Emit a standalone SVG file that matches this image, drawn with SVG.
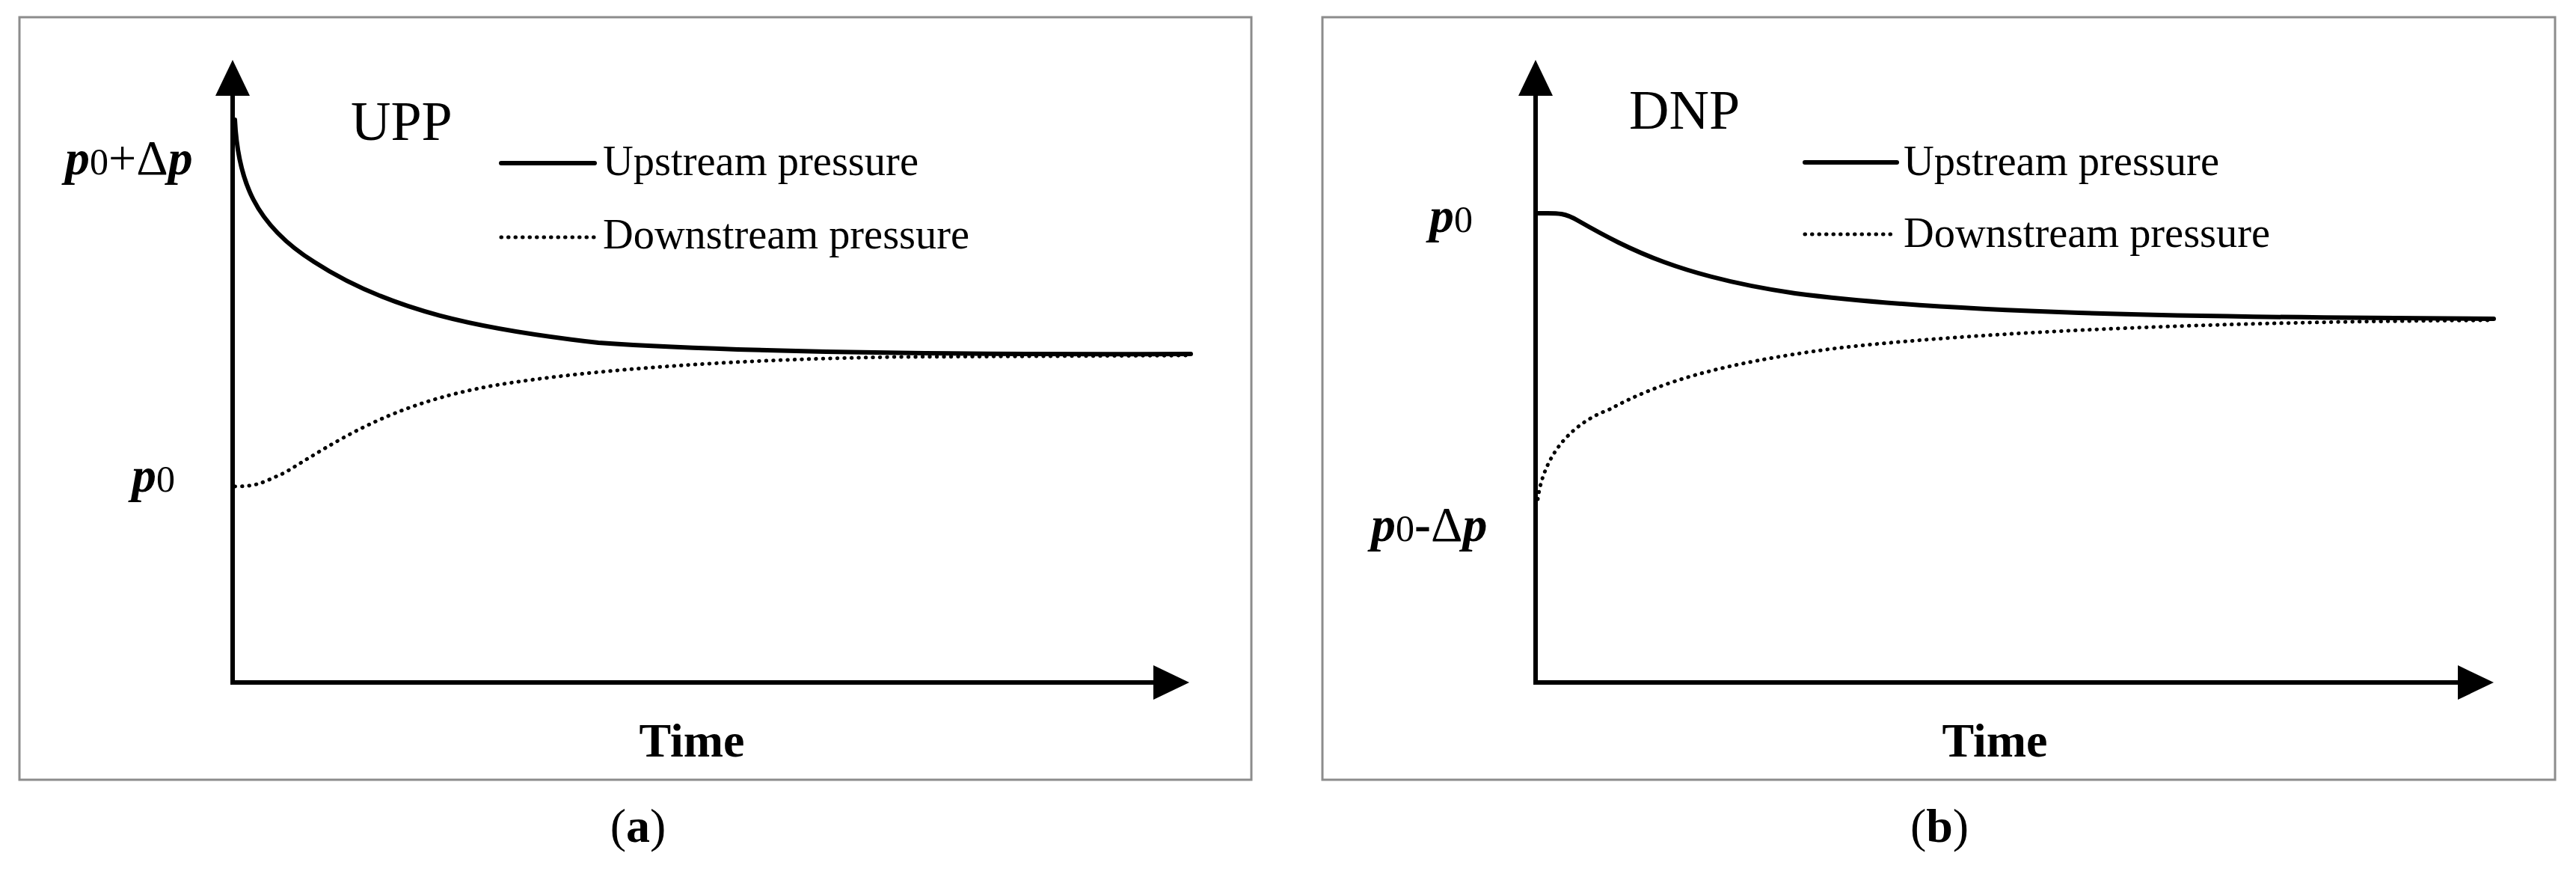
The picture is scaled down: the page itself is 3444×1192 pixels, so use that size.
<svg xmlns="http://www.w3.org/2000/svg" width="3444" height="1192" viewBox="0 0 3444 1192">
<style>
.box{fill:#fff;stroke:#8c8c8c;stroke-width:3}
.axis{stroke:#000;stroke-width:6;fill:none}
.up{stroke:#000;stroke-width:6;fill:none;stroke-linecap:round}
.dn{stroke:#000;stroke-width:5;fill:none;stroke-dasharray:0.5 9;stroke-linecap:round}
.t{font-family:"Liberation Serif",serif;fill:#000}
.lbl{font-family:"Liberation Serif",serif;font-size:66px;fill:#000}
.bi{font-weight:bold;font-style:italic}
.cap{font-family:"Liberation Serif",serif;font-size:64px;fill:#000;text-anchor:middle}
</style>
<defs>
<marker id="ah" markerWidth="10" markerHeight="10" refX="0" refY="5" orient="auto" markerUnits="userSpaceOnUse" viewBox="0 0 10 10" overflow="visible">
<path d="M-4,-18 L44,5 L-4,28 Z" fill="#000"/>
</marker>
</defs>
<rect class="box" x="26" y="23" width="1647" height="1019"/>
<rect class="box" x="1768" y="23" width="1648" height="1019"/>
<g id="panel-a">
<g id="connectors-a">
<path class="axis" d="M311,912 L1546,912" marker-end="url(#ah)"/>
<path class="axis" d="M311,915 L311,124" marker-end="url(#ah)"/>
<path class="up" d="M314,160 C318,240 340,300 420,350 C520,415 640,440 800,458 C1000,472 1300,474 1592,473"/>
<path class="dn" d="M314,650 C345,650 350,645 380,632 C450,590 520,540 661,515 C800,492 1000,480 1200,477 L1592,475"/>
<line class="up" x1="670" y1="218" x2="795" y2="218"/>
<line class="dn" x1="670" y1="317" x2="795" y2="317"/>
</g>
<text class="t" x="469" y="187" font-size="74">UPP</text>
<text class="t" x="806" y="234" font-size="56" textLength="422" lengthAdjust="spacingAndGlyphs">Upstream pressure</text>
<text class="t" x="806" y="332" font-size="56" textLength="490" lengthAdjust="spacingAndGlyphs">Downstream pressure</text>
<text class="lbl" x="87" y="233"><tspan class="bi">p</tspan><tspan font-size="50">0</tspan>+Δ<tspan class="bi">p</tspan></text>
<text class="lbl" x="176" y="657"><tspan class="bi">p</tspan><tspan font-size="50">0</tspan></text>
<text class="cap" x="925" y="1011" font-size="70" font-weight="bold">Time</text>
<text class="cap" x="853" y="1125">(<tspan font-weight="bold">a</tspan>)</text>
</g>
<g id="panel-b">
<g id="connectors-b">
<path class="axis" d="M2053,912 L3290,912" marker-end="url(#ah)"/>
<path class="axis" d="M2053,915 L2053,124" marker-end="url(#ah)"/>
<path class="up" d="M2056,285 C2080,285 2090,283 2110,295 C2180,335 2250,370 2400,392 C2600,418 2900,424 3334,426"/>
<path class="dn" d="M2056,667 C2062,620 2090,570 2152,547 C2220,510 2300,486 2450,466 C2600,448 2900,430 3334,428"/>
<line class="up" x1="2413" y1="217" x2="2536" y2="217"/>
<line class="dn" x1="2413" y1="313" x2="2536" y2="313"/>
</g>
<text class="t" x="2178" y="172" font-size="74">DNP</text>
<text class="t" x="2545" y="234" font-size="56" textLength="422" lengthAdjust="spacingAndGlyphs">Upstream pressure</text>
<text class="t" x="2545" y="330" font-size="56" textLength="490" lengthAdjust="spacingAndGlyphs">Downstream pressure</text>
<text class="lbl" x="1911" y="310"><tspan class="bi">p</tspan><tspan font-size="50">0</tspan></text>
<text class="lbl" x="1833" y="723"><tspan class="bi">p</tspan><tspan font-size="50">0</tspan><tspan font-weight="bold">-</tspan>Δ<tspan class="bi">p</tspan></text>
<text class="cap" x="2667" y="1011" font-size="70" font-weight="bold">Time</text>
<text class="cap" x="2593" y="1125">(<tspan font-weight="bold">b</tspan>)</text>
</g>
</svg>
